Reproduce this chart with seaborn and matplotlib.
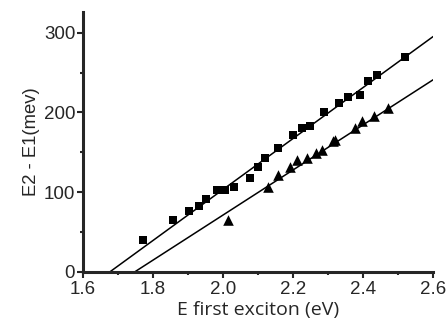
import numpy as np
import pandas as pd
import seaborn as sns
import matplotlib.pyplot as plt
from matplotlib.ticker import MultipleLocator

# upper series (squares)
e_sq = [1.772, 1.858, 1.904, 1.931, 1.951, 1.984, 2.006, 2.031, 2.077, 2.101,
        2.120, 2.158, 2.200, 2.225, 2.247, 2.289, 2.332, 2.358, 2.390, 2.415,
        2.439, 2.520]
d_sq = [40, 65, 76, 83, 91, 103, 103, 107, 118, 132,
        143, 155, 172, 180, 183, 201, 212, 220, 222, 239,
        247, 270]

# lower series (triangles)
e_tri = [2.015, 2.127, 2.158, 2.190, 2.210, 2.239, 2.265, 2.282, 2.315, 2.320,
         2.377, 2.396, 2.430, 2.472]
d_tri = [65, 107, 122, 131, 140, 143, 149, 153, 164, 166,
         180, 189, 195, 205]

# linear fits: x-intercept (eV) and slope (meV/eV)
fit_x0 = [1.677, 1.748]
fit_slope = [320, 283]
x_end = 2.6

df = pd.DataFrame({
    'E': e_sq + e_tri,
    'dE': d_sq + d_tri,
    'kind': ['sq'] * len(e_sq) + ['tri'] * len(e_tri),
})

sns.set_style('ticks')
plt.rcParams['font.family'] = ['Liberation Sans', 'DejaVu Sans']

fig = plt.figure(figsize=(4.48, 3.26), dpi=100)
ax = fig.add_axes([0.185, 0.166, 0.782, 0.797])

for x0, k in zip(fit_x0, fit_slope):
    xs = np.array([x0, x_end])
    sns.lineplot(x=xs, y=k * (xs - x0), color='black', lw=1.1, ax=ax)

sns.scatterplot(data=df[df.kind == 'sq'], x='E', y='dE', marker='s', s=36,
                color='black', edgecolor='black', linewidth=0, ax=ax)
sns.scatterplot(data=df[df.kind == 'tri'], x='E', y='dE', marker='^', s=58,
                color='black', edgecolor='black', linewidth=0, ax=ax)

ax.set_xlim(1.6, 2.6)
ax.set_ylim(0, 326)
ax.xaxis.set_major_locator(MultipleLocator(0.2))
ax.xaxis.set_minor_locator(MultipleLocator(0.1))
ax.yaxis.set_major_locator(MultipleLocator(100))
ax.yaxis.set_minor_locator(MultipleLocator(50))
ax.set_xticklabels([f'{v:.1f}' for v in ax.get_xticks()])

sns.despine(ax=ax)
for s in ['left', 'bottom']:
    ax.spines[s].set_linewidth(2.2)
ax.tick_params(which='major', length=4, width=1.5, labelsize=13.5, pad=1.5)
ax.tick_params(axis='x', which='major', pad=2.5)
ax.tick_params(which='minor', length=2.5, width=1.5)

ax.set_xlabel('E first exciton (eV)', fontsize=14, family=['Open Sans', 'DejaVu Sans'], labelpad=2)
ax.set_ylabel('E2 - E1(mev)', fontsize=13.3, labelpad=3)

fig.savefig('out.png', dpi=100)
